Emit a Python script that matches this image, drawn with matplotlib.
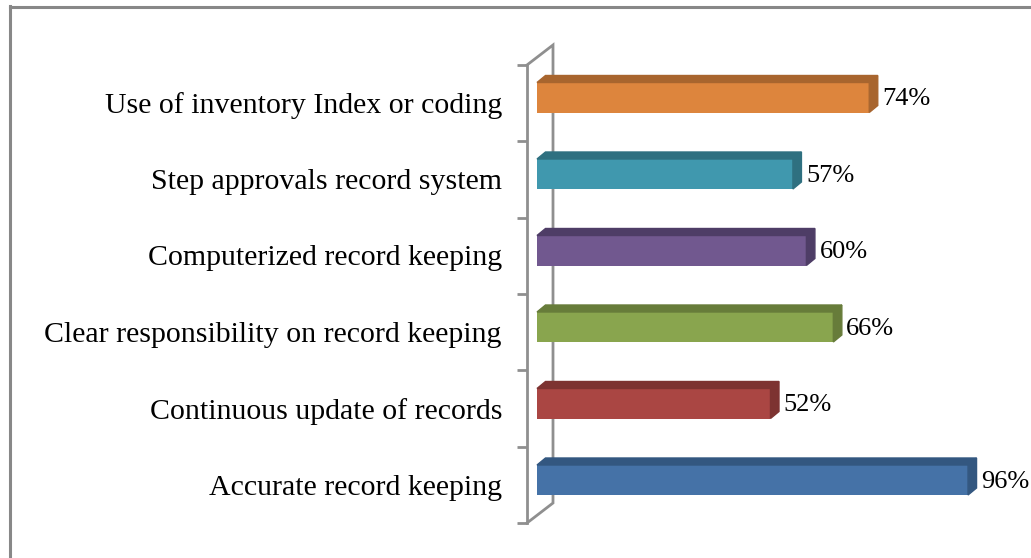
import numpy as np
import matplotlib.pyplot as plt
from matplotlib.patches import Polygon
from matplotlib.lines import Line2D

categories = ["Accurate record keeping", "Continuous update of records",
              "Clear responsibility on record keeping", "Computerized record keeping",
              "Step approvals record system", "Use of inventory Index or coding"]
values = [96, 52, 66, 60, 57, 74]
face_colors = ["#4572A7", "#AA4643", "#89A54E", "#71588F", "#4098AE", "#DD853D"]
dark_colors = ["#335780", "#7D3331", "#677C3A", "#4E3D66", "#2F7080", "#A8652E"]

W, H = 1031, 558
fig = plt.figure(figsize=(W / 100, H / 100), dpi=100)
plt.rcParams['font.family'] = ['Liberation Serif', 'DejaVu Serif']

# pixel geometry of the plot area
x0_px, pxpp = 537, 4.49          # 0% position and px per percent
y0_px, step = 480, 76.5          # front-face center of first bar, spacing
left_px, right_px, top_px, bot_px = 527, 1003, 65, 523
xlim = ((left_px - x0_px) / pxpp, (right_px - x0_px) / pxpp)
ylim = ((y0_px - bot_px) / step, (y0_px - top_px) / step)

ax = fig.add_axes([left_px / W, 1 - bot_px / H, (right_px - left_px) / W, (bot_px - top_px) / H])
ax.set_xlim(*xlim)
ax.set_ylim(*ylim)
for s in ["top", "right", "bottom"]:
    ax.spines[s].set_visible(False)
wall = "#8f8f8f"
ax.spines["left"].set_color(wall)
ax.spines["left"].set_linewidth(2)
ax.set_xticks([])
ax.set_yticks(np.linspace(ylim[0], ylim[1], 7))
ax.set_yticklabels([])
ax.tick_params(axis="y", length=7, width=2, color=wall, direction="out")

# back wall
wdx, wdy = 26 / pxpp, 20 / step
ax.plot([xlim[0], xlim[0] + wdx, xlim[0] + wdx, xlim[0]],
        [ylim[1], ylim[1] + wdy, ylim[0] + wdy, ylim[0]],
        color=wall, lw=2, clip_on=False, solid_joinstyle="miter")

# 3D bars
bh = 30 / step
dx, dy = 8.5 / pxpp, 7 / step
for i, (cat, v, fc, dc) in enumerate(zip(categories, values, face_colors, dark_colors)):
    ax.barh(i, v, height=bh, color=fc, zorder=3)
    b, t = i - bh / 2, i + bh / 2
    ax.add_patch(Polygon([(0, t), (v, t), (v + dx, t + dy), (dx, t + dy)],
                         closed=True, color=dc, zorder=3, clip_on=False))
    ax.add_patch(Polygon([(v, b), (v, t), (v + dx, t + dy), (v + dx, b + dy)],
                         closed=True, color=dc, zorder=3, clip_on=False))
    ax.text(v + dx + 1.0, i - 0.02, f"{v}%", ha="left", va="center",
            fontsize=19, clip_on=False)
    ax.text((502 - x0_px) / pxpp, i - 0.1, cat, ha="right", va="center",
            fontsize=21.5, clip_on=False)

# outer border (left and top only visible)
fig.add_artist(Line2D([9.5 / W, 9.5 / W], [0, 1 - 6 / H], transform=fig.transFigure,
                      color="#888888", lw=2.2))
fig.add_artist(Line2D([9.5 / W, 1], [1 - 7 / H, 1 - 7 / H], transform=fig.transFigure,
                      color="#888888", lw=2.2))

fig.savefig("out.png", dpi=100)
